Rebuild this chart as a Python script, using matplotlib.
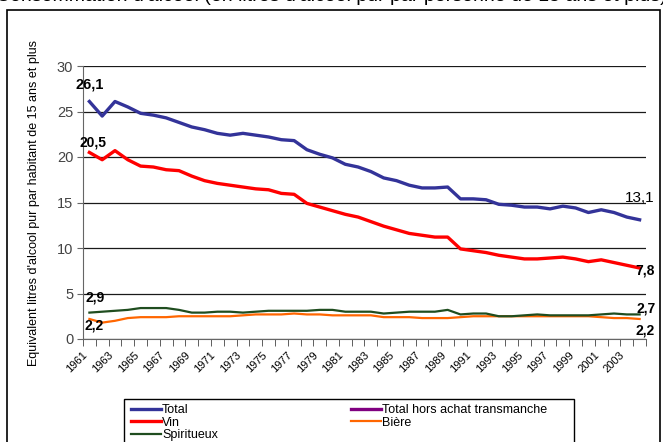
import matplotlib
matplotlib.use("Agg")
import matplotlib.pyplot as plt
from matplotlib.patches import Rectangle

plt.rcParams['font.family'] = ['Liberation Sans', 'DejaVu Sans']

years = list(range(1961, 2005))
total = [26.1, 24.5, 26.1, 25.5, 24.8, 24.6, 24.3, 23.8, 23.3, 23.0,
         22.6, 22.4, 22.6, 22.4, 22.2, 21.9, 21.8, 20.8, 20.3, 19.9,
         19.2, 18.9, 18.4, 17.7, 17.4, 16.9, 16.6, 16.6, 16.7, 15.4,
         15.4, 15.3, 14.8, 14.7, 14.5, 14.5, 14.3, 14.6, 14.4, 13.9,
         14.2, 13.9, 13.4, 13.1]
vin = [20.5, 19.7, 20.7, 19.7, 19.0, 18.9, 18.6, 18.5, 17.9, 17.4,
       17.1, 16.9, 16.7, 16.5, 16.4, 16.0, 15.9, 14.9, 14.5, 14.1,
       13.7, 13.4, 12.9, 12.4, 12.0, 11.6, 11.4, 11.2, 11.2, 9.9,
       9.7, 9.5, 9.2, 9.0, 8.8, 8.8, 8.9, 9.0, 8.8, 8.5,
       8.7, 8.4, 8.1, 7.8]
spiritueux = [2.9, 3.0, 3.1, 3.2, 3.4, 3.4, 3.4, 3.2, 2.9, 2.9,
              3.0, 3.0, 2.9, 3.0, 3.1, 3.1, 3.1, 3.1, 3.2, 3.2,
              3.0, 3.0, 3.0, 2.8, 2.9, 3.0, 3.0, 3.0, 3.2, 2.7,
              2.8, 2.8, 2.5, 2.5, 2.6, 2.7, 2.6, 2.6, 2.6, 2.6,
              2.7, 2.8, 2.7, 2.7]
biere = [2.2, 1.8, 2.0, 2.3, 2.4, 2.4, 2.4, 2.5, 2.5, 2.5,
         2.5, 2.5, 2.6, 2.7, 2.7, 2.7, 2.8, 2.7, 2.7, 2.6,
         2.6, 2.6, 2.6, 2.4, 2.4, 2.4, 2.3, 2.3, 2.3, 2.4,
         2.5, 2.5, 2.5, 2.5, 2.5, 2.5, 2.5, 2.5, 2.5, 2.5,
         2.4, 2.3, 2.3, 2.2]
yticks = [0, 5, 10, 15, 20, 25, 30]

W, H = 663, 442
fig = plt.figure(figsize=(W / 100, H / 100), dpi=100)
ax = fig.add_axes([83 / W, 1 - 339 / H, 563 / W, 273 / H])

x = list(range(len(years)))
l_total, = ax.plot(x, total, color='#333399', lw=2.4, label='Total', zorder=5)
l_hors, = ax.plot([], [], color='#800080', lw=2.4, label='Total hors achat transmanche')
l_vin, = ax.plot(x, vin, color='#ff0000', lw=2.4, label='Vin', zorder=5)
l_biere, = ax.plot(x, biere, color='#ff6600', lw=1.6, label='Bière', zorder=4)
l_spir, = ax.plot(x, spiritueux, color='#1f4d1f', lw=1.6, label='Spiritueux', zorder=4)

ax.set_xlim(-0.5, len(years) - 0.5)
ax.set_ylim(0, 30)
ax.set_yticks(yticks)
ax.yaxis.grid(True, color='#1a1a1a', lw=0.9)
ax.set_axisbelow(True)
for s in ['top', 'right']:
    ax.spines[s].set_visible(False)
ax.spines['left'].set_color('#666666')
ax.spines['bottom'].set_color('#666666')
ax.tick_params(axis='y', length=4, color='#666666', labelsize=10.5, labelcolor='#444444', pad=3)

ax.set_xticks(x[::2])
ax.set_xticklabels([str(y) for y in years[::2]], rotation=45, ha='right', fontsize=8)
ax.tick_params(axis='x', which='major', length=0, pad=8)
ax.set_xticks([i - 0.5 for i in range(len(years) + 1)], minor=True)
ax.tick_params(axis='x', which='minor', length=5, color='#444444')

ax.set_ylabel("Equivalent litres d'alcool pur par habitant de 15 ans et plus", fontsize=9)
ax.yaxis.set_label_coords(-0.076, 0.5)

def lab(v):
    return f"{v:.1f}".replace('.', ',')

n = len(years) - 1
notes = [
    (0, total[0], (0, 12), 10.5, 'bold'),
    (0, vin[0], (2.6, 7), 10, 'bold'),
    (0, spiritueux[0], (4, 11), 10, 'bold'),
    (0, biere[0], (3, -5), 10, 'bold'),
    (n, total[n], (0, 15.5), 11, 'normal'),
    (n, vin[n], (4, -2), 10, 'bold'),
    (n, spiritueux[n], (4.6, 4.4), 10, 'bold'),
    (n, biere[n], (4, -8), 10, 'bold'),
]
for xi, v, off, fs, fw in notes:
    ax.annotate(lab(v), xy=(xi, v), xytext=off, textcoords='offset points',
                ha='center', va='center', fontsize=fs, fontweight=fw,
                annotation_clip=False, zorder=6)

# title, cut at the top edge as in the source image
fig.text(0.5, 1 - 1 / H, "Consommation d'alcool (en litres d'alcool pur par personne de 15 ans et plus)",
         ha='center', va='baseline', fontsize=14)

# outer chart border
fig.add_artist(Rectangle((7 / W, -0.05), 653 / W, 1.05 - 10 / H, transform=fig.transFigure,
                         fill=False, ec='black', lw=1.2))

# legend box
fig.add_artist(Rectangle((124 / W, -0.05), 450 / W, 0.05 + 1 - 399 / H, transform=fig.transFigure,
                         fill=False, ec='black', lw=1.0))
fig.legend(handles=[l_total, l_vin, l_spir, l_hors, l_biere], ncol=2,
           loc='upper left', bbox_to_anchor=(129 / W, 1 - 402 / H), frameon=False,
           fontsize=9, handlelength=2.4, handletextpad=0.1, columnspacing=10.6,
           labelspacing=0.05, borderpad=0.15, borderaxespad=0)

fig.savefig('out.png', dpi=100)
